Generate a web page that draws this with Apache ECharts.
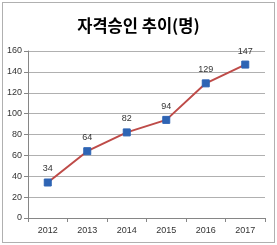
<!DOCTYPE html>
<html><head><meta charset="utf-8">
<script src="https://cdn.jsdelivr.net/npm/echarts@6/dist/echarts.min.js"></script>
<style>html,body{margin:0;padding:0;background:#fff}
#c{position:absolute;left:2px;top:2px;width:271px;height:239px;border:1px solid #b0b0b0;box-sizing:content-box}
</style></head><body>
<div id="c"></div>
<script>
const categories = ['2012','2013','2014','2015','2016','2017'];
const values = [34, 64, 82, 94, 129, 147];
const yTicks = [0, 20, 40, 60, 80, 100, 120, 140, 160];
const titleText = '자격승인 추이(명)';

const chart = echarts.init(document.getElementById('c'), null, {renderer:'canvas'});
chart.setOption({
  animation:false,
  title:{text:titleText,left:'center',top:9,textStyle:{fontFamily:'Noto Sans CJK KR',fontSize:16.5,fontWeight:'bold',color:'#000'}},
  grid:{left:25,right:9,top:48,bottom:24},
  xAxis:{type:'category',data:categories,boundaryGap:true,
    axisLine:{lineStyle:{color:'#868686'}},
    axisTick:{show:true,length:4,lineStyle:{color:'#868686'}},
    axisLabel:{fontFamily:'Liberation Sans',fontSize:9,color:'#333',margin:8}},
  yAxis:{type:'value',min:yTicks[0],max:yTicks[yTicks.length-1],interval:20,
    axisLine:{show:true,lineStyle:{color:'#868686'}},
    axisTick:{show:true,length:4,lineStyle:{color:'#868686'}},
    axisLabel:{fontFamily:'Liberation Sans',fontSize:9,color:'#333',margin:6},
    splitLine:{lineStyle:{color:'#b0b0b0'}}},
  series:[{type:'line',data:values,symbol:'rect',symbolSize:7,
    lineStyle:{color:'#BE4B48',width:2},
    itemStyle:{color:'#2E64B4',borderColor:'#2E64B4'},
    label:{show:true,position:'top',distance:5,fontFamily:'Liberation Sans',fontSize:9,color:'#333'}}]
});
</script></body></html>
